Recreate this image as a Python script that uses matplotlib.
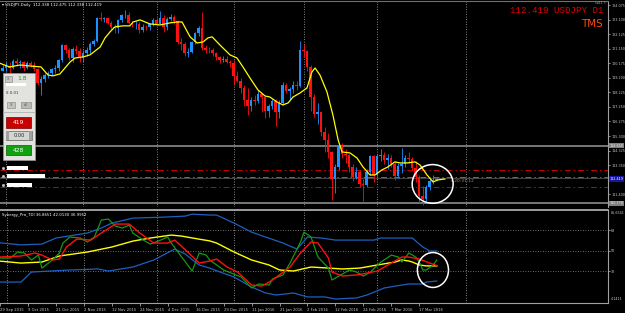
import matplotlib.pyplot as plt
from matplotlib.patches import Rectangle, Ellipse

# ---- USDJPY daily bars, index 0 = 29 Sep 2015 ----
opens = [120.05, 119.70, 119.85, 120.00, 119.90, 120.35, 120.20, 120.25, 119.90, 120.20,
         120.10, 119.80, 118.85, 119.10, 119.40, 119.50, 119.80, 119.90, 120.40, 121.40,
         121.10, 120.55, 121.15, 121.00, 120.60, 120.85, 121.05, 121.50, 121.70, 123.20,
         123.15, 123.20, 122.90, 122.60, 122.55, 123.10, 123.40, 123.45, 122.90, 122.80,
         122.85, 122.45, 122.65, 122.60, 122.80, 123.10, 122.85, 123.20, 122.60, 123.15,
         123.30, 123.00, 121.60, 121.50, 120.90, 120.95, 121.60, 122.20, 122.55, 121.20,
         121.10, 121.05, 120.90, 120.60, 120.40, 120.50, 120.30, 120.20, 119.35, 119.00,
         118.50, 117.70, 117.30, 117.70, 117.65, 118.10, 117.95, 117.00, 117.30, 117.65,
         116.90, 117.50, 118.75, 118.30, 118.45, 118.75, 118.65, 121.10, 121.00, 119.95,
         117.90, 116.80, 116.90, 115.60, 115.00, 114.25, 112.40, 113.20, 114.60, 114.10,
         114.00, 113.20, 112.55, 112.85, 112.10, 112.00, 112.90, 113.95, 112.70, 113.95,
         114.00, 113.70, 113.80, 113.40, 112.60, 113.30, 113.40, 113.80, 113.75, 113.15,
         112.55, 111.30, 111.05, 111.90, 112.25, 112.338]
highs = [120.20, 120.10, 120.25, 120.30, 120.45, 120.55, 120.40, 120.35, 120.35, 120.35,
         120.25, 119.90, 119.30, 119.50, 119.65, 119.90, 120.10, 120.50, 121.50, 121.50,
         121.20, 121.30, 121.40, 121.20, 121.05, 121.25, 121.60, 121.85, 123.30, 123.60,
         123.30, 123.25, 123.00, 122.80, 123.15, 123.50, 123.76, 123.60, 123.00, 123.05,
         122.95, 122.80, 122.75, 122.90, 123.20, 123.20, 123.70, 123.45, 123.30, 123.50,
         123.40, 123.10, 121.90, 121.60, 121.20, 121.70, 122.30, 122.70, 123.60, 121.40,
         121.30, 121.20, 120.95, 120.70, 120.70, 120.65, 120.40, 120.40, 119.65, 119.20,
         118.70, 118.50, 117.90, 118.05, 118.40, 118.20, 118.00, 117.45, 117.80, 117.80,
         117.70, 118.90, 118.85, 118.60, 119.00, 119.00, 121.69, 121.50, 121.05, 120.10,
         118.10, 117.50, 117.00, 115.90, 115.50, 114.30, 113.40, 114.85, 114.85, 114.40,
         114.10, 113.40, 113.20, 113.00, 112.40, 113.05, 114.00, 114.00, 114.10, 114.40,
         114.20, 114.10, 114.00, 113.60, 113.50, 114.50, 114.00, 114.20, 113.90, 113.60,
         112.65, 111.95, 112.00, 112.40, 112.70, 112.475]
lows = [119.60, 119.65, 119.70, 119.40, 119.80, 120.00, 119.90, 119.70, 119.80, 119.95,
        119.70, 118.70, 118.07, 118.90, 119.20, 119.40, 119.55, 119.70, 120.30, 120.90,
        120.40, 120.30, 120.80, 120.25, 120.30, 120.70, 120.90, 121.35, 121.60, 123.00,
        122.95, 122.80, 122.50, 122.25, 122.20, 122.95, 123.20, 122.80, 122.60, 122.50,
        122.20, 122.30, 122.40, 122.45, 122.70, 122.75, 122.80, 122.30, 122.40, 123.00,
        122.85, 121.50, 121.10, 120.70, 120.60, 120.90, 121.45, 122.00, 121.05, 120.90,
        120.90, 120.65, 120.40, 120.20, 120.30, 120.20, 119.95, 118.70, 118.90, 118.20,
        117.30, 116.70, 117.00, 117.35, 117.50, 116.90, 116.50, 116.60, 117.10, 115.97,
        116.50, 117.40, 118.20, 117.70, 118.20, 118.40, 118.60, 120.60, 119.65, 117.00,
        116.55, 116.10, 115.30, 114.20, 113.80, 110.98, 111.50, 113.00, 113.80, 113.50,
        112.90, 112.30, 112.40, 111.90, 110.95, 111.90, 112.70, 112.20, 112.60, 113.60,
        113.40, 113.10, 113.20, 112.35, 112.50, 112.80, 113.20, 113.50, 113.00, 112.20,
        110.80, 110.67, 110.95, 111.70, 112.05, 112.338]
closes = [119.70, 119.85, 120.00, 119.90, 120.35, 120.20, 120.25, 119.90, 120.20, 120.10,
          119.80, 118.85, 119.10, 119.40, 119.50, 119.80, 119.90, 120.40, 121.40, 121.10,
          120.55, 121.15, 121.00, 120.60, 120.85, 121.05, 121.50, 121.70, 123.20, 123.15,
          123.20, 122.90, 122.60, 122.55, 123.10, 123.40, 123.45, 122.90, 122.80, 122.85,
          122.45, 122.65, 122.60, 122.80, 123.10, 122.85, 123.20, 122.60, 123.15, 123.30,
          123.00, 121.60, 121.50, 120.90, 120.95, 121.60, 122.20, 122.55, 121.20, 121.10,
          121.05, 120.90, 120.60, 120.40, 120.50, 120.30, 120.20, 119.35, 119.00, 118.50,
          117.70, 117.30, 117.70, 117.65, 118.10, 117.95, 117.00, 117.30, 117.65, 116.90,
          117.50, 118.75, 118.30, 118.45, 118.75, 118.65, 121.10, 121.00, 119.95, 117.90,
          116.80, 116.90, 115.60, 115.00, 114.25, 112.40, 113.20, 114.60, 114.10, 114.00,
          113.20, 112.55, 112.85, 112.10, 112.00, 112.90, 113.95, 112.70, 113.95, 114.00,
          113.70, 113.80, 113.40, 112.60, 113.30, 113.40, 113.80, 113.75, 113.15, 112.55,
          111.30, 111.05, 111.90, 112.25, 112.338, 112.419]

# yellow moving average on price (bar position, price)
ma_x = [0, 3, 6, 9, 12, 14, 15.4, 17.4, 20.3, 21.7, 24, 26, 28.9, 30.3, 31.7, 33.1, 35.4,
        37.4, 38.3, 40.3, 43.1, 46, 48.9, 50.9, 52.3, 54.6, 56.6, 58.3, 59.7, 60.9, 63.1,
        66, 68, 69.7, 71.7, 74, 76, 77.4, 79.4, 81.1, 82.6, 84, 86, 88, 89.4, 90.3, 91.7,
        93.7, 95.4, 96.9, 98, 100.3, 102.3, 104, 106, 107.4, 109.4, 111.1, 113.1, 114.6,
        116.6, 118.9, 120.3, 122.3, 124, 125.4, 127.4]
ma_y = [120.21, 119.94, 120.07, 120.0, 119.94, 119.4, 119.34, 119.47, 120.27, 120.54,
        120.61, 120.75, 121.28, 121.89, 122.29, 122.63, 122.7, 122.7, 122.96, 123.1,
        122.83, 122.76, 122.9, 122.96, 122.96, 121.96, 121.55, 121.62, 121.89, 121.96,
        121.42, 120.75, 120.54, 119.94, 119.2, 118.39, 117.99, 117.92, 117.59, 117.39,
        117.52, 117.92, 118.19, 118.53, 119.6, 119.87, 119.4, 118.26, 116.71, 115.03,
        114.23, 114.16, 113.82, 113.22, 112.68, 112.68, 113.02, 113.22, 113.56, 113.49,
        113.49, 113.56, 113.35, 112.68, 112.21, 112.35, 112.41]

# horizontal level lines on the price chart
level_gray = [114.65, 110.77]
level_red = [113.00, 111.86]
level_green = 112.53
level_ask = 112.46

# Synergy_Pro_TDI lines (bar position, value)
upper_x = [0, 6, 12, 16, 25, 29, 32, 38, 47, 53, 55, 60, 62, 67, 72, 76, 81, 85, 88, 92,
           96, 107, 109, 118, 121, 123, 125]
upper_v = [56.8, 55.0, 55.7, 61.0, 65.4, 69.8, 74.1, 78.5, 79.4, 80.3, 82.0, 81.2, 81.2,
           74.1, 66.2, 61.9, 56.6, 51.3, 61.9, 61.0, 59.2, 59.2, 61.0, 61.0, 53.1, 49.6, 49.6]
lower_x = [0, 6, 9, 20, 28, 31, 38, 44, 50, 53, 55, 57, 60, 63, 67, 72, 76, 79, 84, 88,
           93, 96, 102, 105, 110, 115, 117, 121, 122, 125]
lower_v = [22.3, 22.3, 31.1, 32.9, 33.8, 32.0, 35.5, 41.7, 51.3, 47.0, 42.0, 37.3, 34.6,
           31.1, 26.7, 17.9, 12.7, 10.9, 12.7, 9.2, 9.2, 7.4, 8.3, 10.9, 17.1, 19.7, 20.6,
           20.6, 22.3, 23.2]
base_x = [0, 6, 12, 17, 25, 32, 38, 43, 49, 52, 57, 60, 62, 67, 72, 77, 80, 84, 89, 94,
          98, 103, 108, 113, 115, 117, 118, 120, 122, 125]
base_v = [40.7, 39.0, 39.9, 45.2, 48.7, 53.1, 58.3, 61.0, 63.6, 62.7, 60.0, 58.5, 56.6,
          48.7, 41.7, 37.3, 32.9, 32.0, 35.5, 34.6, 33.8, 34.6, 37.3, 39.9, 41.7, 40.8,
          39.9, 37.3, 36.5, 36.5]
signal_x = [0, 6, 10, 12, 15, 17, 19, 22, 26, 29, 33, 37, 40, 44, 48, 50, 54, 57, 60, 62,
            65, 68, 72, 75, 78, 83, 86, 89, 91, 94, 95, 98, 102, 105, 108, 112, 115, 117,
            120, 123, 125]
signal_v = [44.3, 45.2, 47.8, 46.0, 41.7, 42.5, 53.1, 60.1, 59.2, 65.4, 73.3, 73.3, 65.4,
            56.6, 56.6, 59.2, 47.8, 39.0, 40.8, 42.5, 35.5, 31.1, 19.7, 18.8, 24.1, 35.5,
            47.8, 57.5, 56.6, 43.4, 31.1, 27.6, 28.5, 30.2, 32.0, 39.0, 44.3, 44.3, 42.5,
            39.0, 36.8]
rsi_x = [0, 3, 5, 7, 9, 11, 12, 15, 17, 18, 20, 23, 25, 27, 29, 31, 33, 35, 37, 38, 41,
         43, 46, 48, 49, 52, 55, 57, 59, 60, 64, 69, 72, 74, 77, 78, 81, 83, 86, 87, 89,
         91, 94, 95, 97, 100, 102, 104, 106, 109, 112, 114, 115, 117, 119, 120, 121, 122,
         124, 125]
rsi_v = [43.4, 43.4, 48.7, 47.8, 41.7, 46.0, 34.6, 41.7, 47.8, 56.6, 61.9, 61.0, 57.5,
         61.9, 76.8, 77.7, 71.5, 69.8, 72.4, 65.4, 59.2, 55.7, 59.2, 61.9, 56.6, 44.3, 32.0,
         47.8, 46.0, 41.7, 32.9, 26.7, 17.1, 20.6, 19.7, 25.0, 28.5, 39.0, 57.5, 66.2, 61.9,
         44.3, 34.6, 24.1, 27.6, 32.9, 31.1, 27.6, 31.1, 39.9, 46.0, 44.3, 39.9, 47.8, 44.3,
         39.9, 32.9, 32.9, 37.3, 41.7]
tdi_levels = [68, 50, 32]

price_ticks = [124.075, 123.100, 122.125, 121.150, 120.175, 119.200, 118.225, 117.250,
               116.275, 115.300, 114.325, 113.350, 111.400]
date_idx = [0, 8, 16, 24, 32, 40, 48, 56, 64, 72, 80, 88, 96, 104, 112, 120]
date_labels = ['29 Sep 2015', '9 Oct 2015', '21 Oct 2015', '2 Nov 2015', '12 Nov 2015',
               '24 Nov 2015', '4 Dec 2015', '16 Dec 2015', '29 Dec 2015', '11 Jan 2016',
               '21 Jan 2016', '2 Feb 2016', '12 Feb 2016', '24 Feb 2016', '7 Mar 2016',
               '17 Mar 2016']
grid_bars = [2, 24, 45, 67, 87, 108, 133.4]

W, H = 625, 313
fig = plt.figure(figsize=(W / 100, H / 100), dpi=100, facecolor='black')


def box(x0, y0, x1, y1):
    # place an axes by screenshot pixels, y counted from the top
    return fig.add_axes([x0 / W, 1 - y1 / H, (x1 - x0) / W, (y1 - y0) / H])


xlim = (1 / 3.5, 609 / 3.5)
tick_col = '#c8c8c8'
tick_fs = 2.4

# ---------------- price panel ----------------
ax = box(0, 1, 608, 207)
ax.set_facecolor('black')
ax.set_xlim(*xlim)
ax.set_ylim(110.53, 124.37)
for s in ['left', 'bottom']:
    ax.spines[s].set_visible(False)
ax.spines['right'].set_color('#a0a0a0')
ax.spines['top'].set_color('#707070')
ax.set_xticks([])
ax.yaxis.tick_right()
ax.set_yticks(price_ticks)
ax.set_yticklabels(['%.3f' % p for p in price_ticks])
ax.tick_params(axis='y', labelsize=tick_fs, colors=tick_col, length=1.5, width=0.5, pad=0.8)

for b in grid_bars:
    ax.axvline(b, color='#b0b0b0', lw=0.6, ls=(0, (1, 2)), zorder=0)

idx = list(range(len(closes)))
cols = ['#1e90ff' if c >= o else '#ff1010' for o, c in zip(opens, closes)]
ax.vlines(idx, lows, highs, colors=cols, lw=0.6, zorder=2)
ax.bar(idx, [max(abs(c - o), 0.03) for o, c in zip(opens, closes)],
       bottom=[min(o, c) for o, c in zip(opens, closes)],
       width=0.75, color=cols, lw=0, zorder=2)
ax.plot(ma_x, ma_y, color='#ffff00', lw=0.9, zorder=3)

for p in level_gray:
    ax.axhline(p, color='#808080', lw=1.3, zorder=1)
for p in level_red:
    ax.axhline(p, color='#c80000', lw=0.7, ls=(0, (6, 3, 1.5, 3)), zorder=1)
ax.axhline(level_green, color='#20a020', lw=0.7, ls=(0, (6, 3, 1.5, 3)), zorder=1)
ax.axhline(level_ask, color='#505050', lw=0.6, zorder=1)

for p in level_gray:
    ax.annotate('%.3f' % p, xy=(1.003, p), xycoords=('axes fraction', 'data'),
                fontsize=tick_fs, color='#e8e8e8', va='center', ha='left', zorder=6,
                bbox=dict(boxstyle='square,pad=0.15', fc='#808080', ec='none'))
ax.annotate('%.3f' % closes[-1], xy=(1.003, closes[-1]), xycoords=('axes fraction', 'data'),
            fontsize=tick_fs, color='white', va='center', ha='left', zorder=6,
            bbox=dict(boxstyle='square,pad=0.2', fc='#1414a8', ec='none'))

ax.text(0.004, 0.99, '\u25be USDJPY,Daily  112.338 112.475 112.338 112.419',
        transform=ax.transAxes, fontsize=2.8, color='white', va='top', ha='left')
ax.text(0.992, 0.952, '112.419 USDJPY D1', transform=ax.transAxes, family='Liberation Mono',
        fontsize=6.6, color='#e00000', va='center', ha='right')
ax.text(0.992, 0.89, 'TMS', transform=ax.transAxes, fontsize=7.5, color='#ff4a10',
        va='center', ha='right')
ax.text(0.997, 0.998, 'i-v4.1 \u00a9', transform=ax.transAxes, fontsize=2.0,
        color='#c0c0c0', va='top', ha='right')
ax.text(128.6, 112.28, '<-20:31:12', fontsize=3.2, color='#d08030', va='center', ha='left')
ax.add_patch(Ellipse((123.9, 112.08), 11.7, 2.6, fc='none', ec='white', lw=1.1, zorder=5))

# ---------------- TDI panel ----------------
ax2 = box(0, 210, 608, 302.7)
ax2.set_facecolor('black')
ax2.set_xlim(*xlim)
ax2.set_ylim(4.1411, 85.6541)
ax2.spines['left'].set_visible(False)
ax2.spines['right'].set_color('#a0a0a0')
ax2.spines['top'].set_color('#c8c8c8')
ax2.spines['top'].set_linewidth(1.1)
ax2.spines['bottom'].set_color('#a0a0a0')
ax2.yaxis.tick_right()
ax2.set_yticks(tdi_levels)
ax2.set_yticklabels([str(v) for v in tdi_levels])
ax2.tick_params(axis='y', labelsize=tick_fs, colors=tick_col, length=1.5, width=0.5, pad=0.8)
ax2.set_xticks(date_idx)
ax2.set_xticklabels(date_labels, ha='left')
ax2.tick_params(axis='x', labelsize=2.7, colors=tick_col, length=2, width=0.5, pad=1.5)
ax2.text(1.004, 0.985, '85.6541', transform=ax2.transAxes, fontsize=tick_fs, color=tick_col,
         va='top', ha='left')
ax2.text(1.004, 0.02, '4.1411', transform=ax2.transAxes, fontsize=tick_fs, color=tick_col,
         va='bottom', ha='left')

for b in grid_bars:
    ax2.axvline(b, color='#b0b0b0', lw=0.6, ls=(0, (1, 2)), zorder=0)
for v in tdi_levels:
    ax2.axhline(v, color='#909090', lw=0.6, ls=(0, (1, 2)), zorder=0)

ax2.plot(upper_x, upper_v, color='#1f5fc0', lw=0.9)
ax2.plot(lower_x, lower_v, color='#1f5fc0', lw=0.9)
ax2.plot(base_x, base_v, color='#ffff00', lw=1.0)
ax2.plot(rsi_x, rsi_v, color='#139a13', lw=0.9)
ax2.plot(signal_x, signal_v, color='#ff1010', lw=1.0)
ax2.text(0.004, 0.97, 'Synergy_Pro_TDI 36.8651 42.0130 36.9952', transform=ax2.transAxes,
         fontsize=2.8, color='white', va='top', ha='left')
ax2.add_patch(Ellipse((123.9, 32.9), 8.9, 30.7, fc='none', ec='white', lw=1.1, zorder=5))

# ---------------- trade panel overlay (screen pixels) ----------------
ov = fig.add_axes([0, 0, 1, 1], zorder=10)
ov.set_xlim(0, W)
ov.set_ylim(H, 0)
ov.axis('off')
ov.add_patch(Rectangle((3, 73), 32, 87, fc='#e2e2de', ec='#9a9a9a', lw=0.5))
ov.add_patch(Rectangle((5, 76), 7, 6, fc='#c8c8c4', ec='#808080', lw=0.4))
ov.text(8.5, 79, 'X', fontsize=2.6, color='#505050', ha='center', va='center')
ov.text(17, 79, '1.8', fontsize=4.3, color='#209a20', ha='left', va='center')
ov.add_patch(Rectangle((6, 83), 20, 3, fc='white', ec='none'))
ov.text(6, 93, 'S 0.01', fontsize=2.8, color='#303030', ha='left', va='center')
ov.add_patch(Rectangle((7, 102), 8, 6, fc='#c4c4c0', ec='#808080', lw=0.4))
ov.text(11, 105, 'X', fontsize=2.6, color='#505050', ha='center', va='center')
ov.add_patch(Rectangle((21, 102), 10, 6, fc='#b8b8b4', ec='#808080', lw=0.4))
ov.text(26, 105, 'all', fontsize=2.2, color='#404040', ha='center', va='center')
ov.plot([3, 35], [112, 112], color='#a8a8a8', lw=0.5)
ov.add_patch(Rectangle((6, 117), 25, 11, fc='#c80000', ec='#7a0000', lw=0.5))
ov.text(18.5, 122.5, '419', fontsize=4.3, color='white', ha='center', va='center')
ov.add_patch(Rectangle((6, 131), 26, 9, fc='#d4d4d0', ec='#606060', lw=0.5))
ov.add_patch(Rectangle((6, 131), 3, 9, fc='#a0a0a0', ec='none'))
ov.add_patch(Rectangle((29, 131), 3, 9, fc='#a0a0a0', ec='none'))
ov.text(19, 135.5, '0.00', fontsize=3.6, color='#202020', ha='center', va='center')
ov.add_patch(Rectangle((6, 145), 25, 10, fc='#10a010', ec='#006000', lw=0.5))
ov.text(18.5, 150, '428', fontsize=4.3, color='white', ha='center', va='center')
for y0, w in [(166, 21), (174, 38), (183, 25)]:
    ov.add_patch(Rectangle((7, y0), w, 4, fc='white', ec='none'))
    ov.plot([3], [y0 + 2], marker='s', ms=1.0, color='#c0c0c0')

fig.savefig('out.png', dpi=100, facecolor='black')
